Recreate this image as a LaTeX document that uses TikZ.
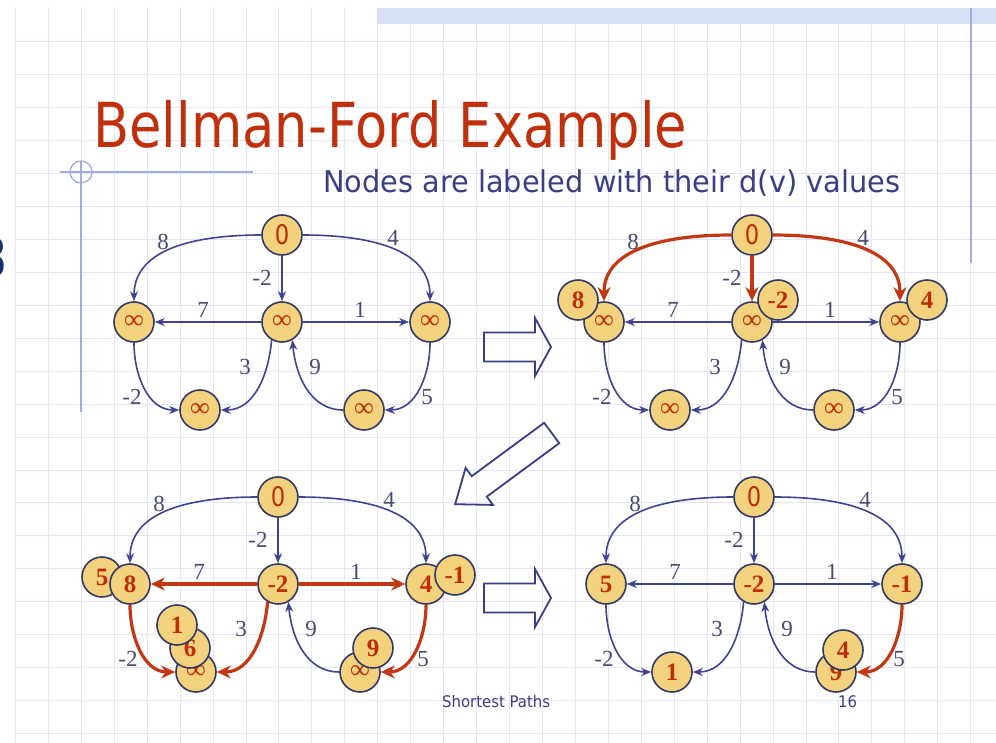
\documentclass[tikz,border=0pt]{standalone}
\usepackage{graphicx}
\usepackage{fontspec}
\setmainfont{Liberation Serif}
\newfontfamily\slidefont{DejaVu Sans}
\usetikzlibrary{arrows.meta}

\definecolor{titlered}{RGB}{192,48,12}
\definecolor{navy}{RGB}{58,62,132}
\definecolor{edgeblue}{RGB}{62,68,145}
\definecolor{edgered}{RGB}{195,55,18}
\definecolor{nodefill}{RGB}{242,210,124}
\definecolor{nodeline}{RGB}{52,56,100}
\definecolor{valred}{RGB}{190,45,10}
\definecolor{wtgrey}{RGB}{72,76,112}
\definecolor{gridline}{RGB}{226,229,246}
\definecolor{bandblue}{RGB}{214,224,246}
\definecolor{rulerblue}{RGB}{160,174,222}
\definecolor{edgenavy}{RGB}{20,50,110}

% slide font is narrower than DejaVu Sans
\newcommand{\tah}[2][0.84]{\scalebox{#1}[1]{#2}}

\begin{document}
\begin{tikzpicture}[
  x=1pt, y=1pt,
  vtx/.style={circle, draw=nodeline, line width=1.6pt, fill=nodefill, minimum size=40pt, inner sep=0pt, text=valred},
  vtxsrc/.style={vtx, font=\slidefont\fontsize{27}{27}\selectfont},
  vtxinf/.style={vtx, font=\fontsize{27}{27}\selectfont\bfseries},
  vtxval/.style={vtx, font=\fontsize{25}{25}\selectfont\bfseries},
  wt/.style={text=wtgrey, font=\fontsize{23}{23}\selectfont, inner sep=0pt},
  link/.style={draw=edgeblue, line width=1.6pt, -{Stealth[length=10pt,width=8pt]}},
  hotlink/.style={draw=edgered, line width=3.2pt, -{Stealth[length=14pt,width=13pt]}},
  bigarrow/.style={draw=navy, line width=1.8pt},
  gridrule/.style={draw=gridline, line width=0.9pt},
  ruler/.style={draw=rulerblue, line width=1.3pt}
]
\useasboundingbox[fill=white] (0,0) rectangle (996,-743);

% ---- slide background: grid, band, rulers ----
\foreach \i in {0,...,29}
  \draw[gridrule] ({15.4+32.94*\i},-8) -- ({15.4+32.94*\i},-743);
\foreach \j in {1,...,22}
  \draw[gridrule] (15,{-8.8-32.94*\j}) -- (996,{-8.8-32.94*\j});
\fill[bandblue] (377,-8) rectangle (996,-24);
\draw[ruler] (971,-8) -- (971,-263);
\draw[ruler] (60,-172) -- (253,-172);
\draw[ruler] (81,-161) -- (81,-412);
\draw[ruler] (81,-172) circle (11);

% ---- texts ----
\node[anchor=base east, inner sep=0pt, text=edgenavy, font=\slidefont\fontsize{55}{55}\selectfont] (prev) at (8,-278) {\tah{3}};
\node[anchor=base west, inner sep=0pt, text=titlered, font=\slidefont\fontsize{62}{62}\selectfont] (title) at (93,-148) {\tah[0.85]{Bellman-Ford Example}};
\node[anchor=base west, inner sep=0pt, text=navy, font=\slidefont\fontsize{30}{30}\selectfont] (subtitle) at (323,-193) {\tah[0.96]{Nodes are labeled with their d(v) values}};
\node[anchor=base west, inner sep=0pt, text=navy, font=\slidefont\fontsize{16}{16}\selectfont] (footer) at (442,-707) {\tah[0.93]{Shortest Paths}};
\node[anchor=base west, inner sep=0pt, text=navy, font=\slidefont\fontsize{16}{16}\selectfont] (pageno) at (838,-707) {\tah[0.93]{16}};

% ---- hollow step arrows ----
\foreach \ay in {-347,-598}
  \draw[bigarrow, shift={(0,\ay)}] (484,14.5) -- (535,14.5) -- (535,29) -- (551,0)
    -- (535,-29) -- (535,-14.5) -- (484,-14.5) -- cycle;
\draw[bigarrow, shift={(551.7,-433)}, rotate=216.4] (0,12.7) -- (90,12.7) -- (90,23)
  -- (120,0) -- (90,-23) -- (90,-12.7) -- (0,-12.7) -- cycle;

% ---- graph A: start ----
\begin{scope}[shift={(282,-235)}]
\node[vtxsrc] (A-s) at (0,0) {\tah{0}};
\node[vtxinf] (A-l) at (-148,-87) {∞};
\node[vtxinf] (A-m) at (0,-87) {∞};
\node[vtxinf] (A-r) at (148,-87) {∞};
\node[vtxinf] (A-bl) at (-82,-175) {∞};
\node[vtxinf] (A-br) at (82,-175) {∞};
\draw[link] (A-s) to[out=180,in=90] (A-l);
\draw[link] (A-s) to[out=0,in=90] (A-r);
\draw[link] (A-s) -- (A-m);
\draw[link] (A-m) -- (A-l);
\draw[link] (A-m) -- (A-r);
\draw[link] (A-l) to[out=-90,in=180] (A-bl);
\draw[link] (A-m.-120) to[out=-95,in=0] (A-bl);
\draw[link] (A-br) to[out=180,in=-85] (A-m.-60);
\draw[link] (A-r) to[out=-90,in=0] (A-br);
\end{scope}

% ---- graph B: first pass from the source ----
\begin{scope}[shift={(752,-235)}]
\node[vtxsrc] (B-s) at (0,0) {\tah{0}};
\node[vtxinf] (B-l) at (-148,-87) {∞};
\node[vtxinf] (B-m) at (0,-87) {∞};
\node[vtxinf] (B-r) at (148,-87) {∞};
\node[vtxinf] (B-bl) at (-82,-175) {∞};
\node[vtxinf] (B-br) at (82,-175) {∞};
\node[vtxval] (B-l2) at (-174,-65) {8};
\node[vtxval] (B-m2) at (26,-65) {-2};
\node[vtxval] (B-r2) at (175,-65) {4};
\draw[hotlink] (B-s) to[out=180,in=90] (B-l);
\draw[hotlink] (B-s) to[out=0,in=90] (B-r);
\draw[hotlink] (B-s) -- (B-m);
\draw[link] (B-m) -- (B-l);
\draw[link] (B-m) -- (B-r);
\draw[link] (B-l) to[out=-90,in=180] (B-bl);
\draw[link] (B-m.-120) to[out=-95,in=0] (B-bl);
\draw[link] (B-br) to[out=180,in=-85] (B-m.-60);
\draw[link] (B-r) to[out=-90,in=0] (B-br);
\end{scope}

% ---- graph C: second pass ----
\begin{scope}[shift={(278,-497)}]
\node[vtxsrc] (C-s) at (0,0) {\tah{0}};
\node[vtxval] (C-l2) at (-176,-80) {5};
\node[vtxval] (C-l) at (-148,-87) {8};
\node[vtxval] (C-m) at (0,-87) {-2};
\node[vtxval] (C-r) at (148,-87) {4};
\node[vtxval] (C-r2) at (177,-78) {-1};
\node[vtxinf] (C-bl) at (-82,-175) {∞};
\node[vtxval] (C-bl2) at (-88,-151) {6};
\node[vtxval] (C-bl3) at (-101,-128) {1};
\node[vtxinf] (C-br) at (82,-175) {∞};
\node[vtxval] (C-br2) at (95,-151) {9};
\draw[link] (C-s) to[out=180,in=90] (C-l);
\draw[link] (C-s) to[out=0,in=90] (C-r);
\draw[link] (C-s) -- (C-m);
\draw[hotlink] (C-m) -- (C-l);
\draw[hotlink] (C-m) -- (C-r);
\draw[hotlink] (C-l) to[out=-90,in=180] (C-bl);
\draw[hotlink] (C-m.-120) to[out=-95,in=0] (C-bl);
\draw[link] (C-br) to[out=180,in=-85] (C-m.-60);
\draw[hotlink] (C-r) to[out=-90,in=0] (C-br);
\end{scope}

% ---- graph D: final distances ----
\begin{scope}[shift={(754,-497)}]
\node[vtxsrc] (D-s) at (0,0) {\tah{0}};
\node[vtxval] (D-l) at (-148,-87) {5};
\node[vtxval] (D-m) at (0,-87) {-2};
\node[vtxval] (D-r) at (148,-87) {-1};
\node[vtxval] (D-bl) at (-82,-175) {1};
\node[vtxval] (D-br) at (82,-175) {9};
\node[vtxval] (D-br2) at (89,-153) {4};
\draw[link] (D-s) to[out=180,in=90] (D-l);
\draw[link] (D-s) to[out=0,in=90] (D-r);
\draw[link] (D-s) -- (D-m);
\draw[link] (D-m) -- (D-l);
\draw[link] (D-m) -- (D-r);
\draw[link] (D-l) to[out=-90,in=180] (D-bl);
\draw[link] (D-m.-120) to[out=-95,in=0] (D-bl);
\draw[link] (D-br) to[out=180,in=-85] (D-m.-60);
\draw[hotlink] (D-r) to[out=-90,in=0] (D-br);
\end{scope}

% ---- edge weights, same in all four graphs ----
\foreach \g/\ox/\oy in {A/282/-235, B/752/-235, C/278/-497, D/754/-497}
{
  \begin{scope}[shift={(\ox,\oy)}]
  \node[wt] (\g-w1) at (-119,-7) {8};
  \node[wt] (\g-w2) at (111,-3) {4};
  \node[wt] (\g-w3) at (-20,-43) {-2};
  \node[wt] (\g-w4) at (-79,-75) {7};
  \node[wt] (\g-w5) at (78,-75) {1};
  \node[wt] (\g-w6) at (-150,-162) {-2};
  \node[wt] (\g-w7) at (-37,-132) {3};
  \node[wt] (\g-w8) at (33,-132) {9};
  \node[wt] (\g-w9) at (145,-162) {5};
  \end{scope}
}
\end{tikzpicture}
\end{document}
